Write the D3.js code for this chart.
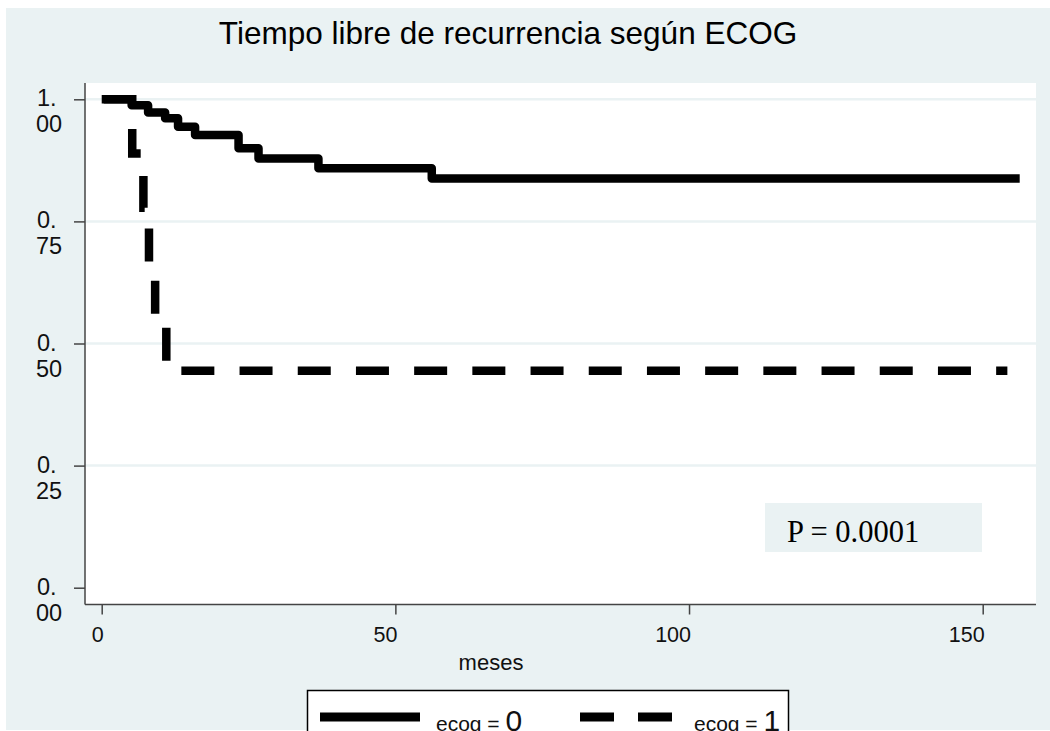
<!DOCTYPE html>
<html>
<head>
<meta charset="utf-8">
<script src="https://cdn.jsdelivr.net/npm/d3@7"></script>
<style>
    body { margin: 0; background: #ffffff; }
    text { font-family: 'Liberation Sans', Arial, sans-serif; }
</style>
</head>
<body>
<svg id="chart" width="1050" height="731"></svg>
<script>
// ecog = 0 : time of each drop (meses) and survival after the drop
const ecog0Times = [5.1, 7.9, 10.8, 13.0, 15.9, 23.3, 26.7, 36.9, 56.2]
const ecog0Surv = [0.988, 0.973, 0.961, 0.944, 0.927, 0.900, 0.879, 0.859, 0.838]
const ecog0End = 156.3

// ecog = 1
const ecog1Times = [5.2, 7.1, 8.05, 9.1, 11.0]
const ecog1Surv = [0.889, 0.778, 0.667, 0.556, 0.444]
const ecog1End = 154.2

const xTicks = [0, 50, 100, 150]
const yTicks = [0, 0.25, 0.5, 0.75, 1]
const yTickLabels = [['0.', '00'], ['0.', '25'], ['0.', '50'], ['0.', '75'], ['1.', '00']]
const gridValues = [0.25, 0.5, 0.75, 1]

const bgColor = '#eaf2f3'

const style = {
    plot: { l: 85, r: 1036, t: 83, b: 604 },
    lineW: 8.5
}

const svg = d3.select('#chart')

const x = d3.scaleLinear().domain([0, 150]).range([101.7, 982.7])
const y = d3.scaleLinear().domain([0, 1]).range([587.7, 99.3])

function stepPoints(times, surv, end) {
    let pts = [[0, 1]]
    let last = 1
    times.forEach((t, i) => {
        pts.push([t, last])
        pts.push([t, surv[i]])
        last = surv[i]
    })
    pts.push([end, last])
    return pts
}

const line = d3.line().x(d => x(d[0])).y(d => y(d[1]))

// graph region
svg.append('rect')
    .attr('x', 6).attr('y', 8)
    .attr('width', 1044).attr('height', 722)
    .attr('fill', bgColor)

svg.append('rect')
    .attr('x', style.plot.l).attr('y', style.plot.t)
    .attr('width', style.plot.r - style.plot.l)
    .attr('height', style.plot.b - style.plot.t)
    .attr('fill', '#ffffff')

// grid
svg.append('g')
    .selectAll(null)
    .data(gridValues)
    .enter()
    .append('line')
    .attr('x1', style.plot.l).attr('x2', style.plot.r)
    .attr('y1', d => y(d)).attr('y2', d => y(d))
    .attr('stroke', bgColor)
    .attr('stroke-width', 2.5)

// title
svg.append('text')
    .attr('x', 508).attr('y', 44)
    .attr('text-anchor', 'middle')
    .attr('font-size', 31.5)
    .attr('fill', '#000')
    .text('Tiempo libre de recurrencia según ECOG')

// y axis
const yAxis = d3.axisLeft(y).tickValues(yTicks).tickSize(11).tickFormat('')
const yAxisG = svg.append('g')
    .attr('transform', 'translate(' + [style.plot.l, 0] + ')')
    .call(yAxis)
yAxisG.select('.domain').remove()
yAxisG.selectAll('.tick line').attr('stroke', '#444').attr('stroke-width', 1.5)

const yLab = svg.append('g')
    .selectAll(null)
    .data(yTicks)
    .enter()
    .append('text')
    .attr('font-size', 23.5)
    .attr('fill', '#111')
yLab.append('tspan')
    .attr('x', 37).attr('y', d => y(d) + 7)
    .text((d, i) => yTickLabels[i][0])
yLab.append('tspan')
    .attr('x', 36).attr('y', d => y(d) + 33)
    .text((d, i) => yTickLabels[i][1])

// x axis
const xAxis = d3.axisBottom(x).tickValues(xTicks).tickSize(10).tickFormat('')
const xAxisG = svg.append('g')
    .attr('transform', 'translate(' + [0, style.plot.b + 0.5] + ')')
    .call(xAxis)
xAxisG.select('.domain').remove()
xAxisG.selectAll('.tick line').attr('stroke', '#444').attr('stroke-width', 1.5)

svg.append('g')
    .selectAll(null)
    .data(xTicks)
    .enter()
    .append('text')
    .attr('x', d => x(d) + 2)
    .attr('y', 642)
    .attr('text-anchor', 'end')
    .attr('font-size', 21.5)
    .attr('fill', '#111')
    .text(d => d)

svg.append('text')
    .attr('x', 491).attr('y', 670)
    .attr('text-anchor', 'middle')
    .attr('font-size', 22)
    .attr('fill', '#111')
    .text('meses')

// axis lines
svg.append('line')
    .attr('x1', style.plot.l).attr('x2', style.plot.l)
    .attr('y1', style.plot.t).attr('y2', style.plot.b + 0.5)
    .attr('stroke', '#444').attr('stroke-width', 1.5)
svg.append('line')
    .attr('x1', style.plot.l).attr('x2', style.plot.r)
    .attr('y1', style.plot.b + 0.5).attr('y2', style.plot.b + 0.5)
    .attr('stroke', '#444').attr('stroke-width', 1.5)

// curves
svg.append('path')
    .datum(stepPoints(ecog0Times, ecog0Surv, ecog0End))
    .attr('d', line)
    .attr('fill', 'none')
    .attr('stroke', '#000')
    .attr('stroke-width', style.lineW)
    .attr('stroke-linejoin', 'round')

svg.append('path')
    .datum(stepPoints(ecog1Times, ecog1Surv, ecog1End))
    .attr('d', line)
    .attr('fill', 'none')
    .attr('stroke', '#000')
    .attr('stroke-width', style.lineW)
    .attr('stroke-dasharray', '33,25.2')
    .attr('stroke-dashoffset', -2)

// p value box
svg.append('rect')
    .attr('x', 765).attr('y', 503)
    .attr('width', 217).attr('height', 49)
    .attr('fill', bgColor)

svg.append('clipPath').attr('id', 'pClip')
    .append('rect')
    .attr('x', 765).attr('y', 503)
    .attr('width', 217).attr('height', 39.5)

svg.append('text')
    .attr('x', 787).attr('y', 542)
    .attr('clip-path', 'url(#pClip)')
    .style('font-family', "'Liberation Serif', 'Times New Roman', serif")
    .attr('font-size', 30.5)
    .attr('fill', '#000')
    .text('P = 0.0001')

// legend
const legendG = svg.append('g')

legendG.append('rect')
    .attr('x', 307.5).attr('y', 690.5)
    .attr('width', 481).attr('height', 60)
    .attr('fill', '#ffffff')
    .attr('stroke', '#000')
    .attr('stroke-width', 1.5)

legendG.append('line')
    .attr('x1', 320).attr('x2', 420)
    .attr('y1', 717).attr('y2', 717)
    .attr('stroke', '#000').attr('stroke-width', 9)

legendG.append('line')
    .attr('x1', 580).attr('x2', 672)
    .attr('y1', 717).attr('y2', 717)
    .attr('stroke', '#000').attr('stroke-width', 9)
    .attr('stroke-dasharray', '34,24')

const legendLabels = [[436, '0'], [694, '1']]
legendLabels.forEach(d => {
    let t = legendG.append('text')
        .attr('x', d[0]).attr('y', 731)
        .attr('font-size', 21)
        .attr('fill', '#111')
    t.append('tspan').text('ecog = ')
    t.append('tspan').attr('font-size', 30).text(d[1])
})
</script>
</body>
</html>
